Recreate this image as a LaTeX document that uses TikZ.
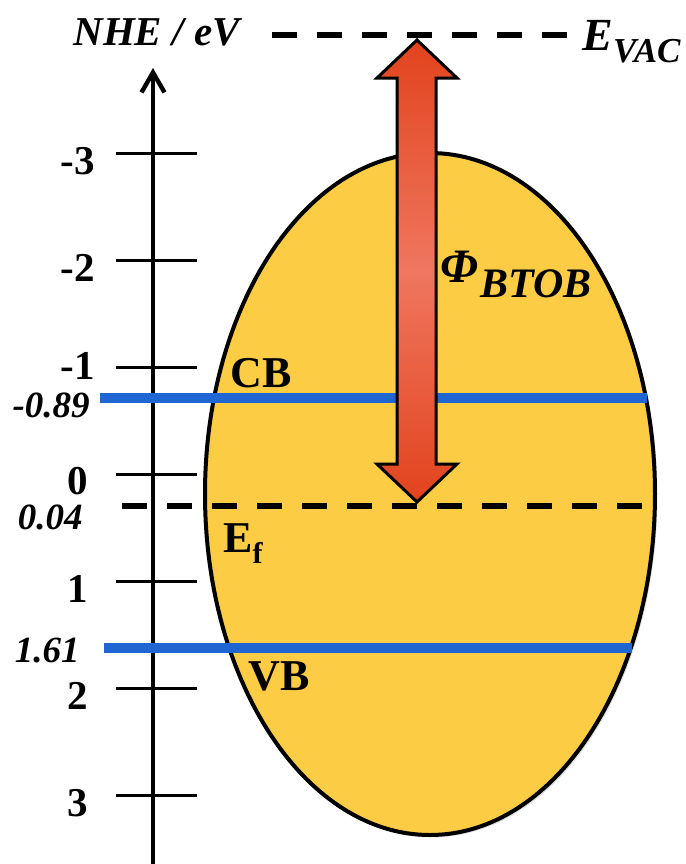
\documentclass[tikz,border=0pt]{standalone}
\usepackage{fontspec}
\setmainfont{Liberation Serif}
\usetikzlibrary{arrows.meta,shadows}
\definecolor{bandblue}{HTML}{1F66D2}
\definecolor{bulk}{HTML}{FCCD44}
\definecolor{arrdark}{HTML}{E2431D}
\definecolor{arrlight}{HTML}{EF765F}

\begin{document}
\begin{tikzpicture}[x=0.5pt,y=-0.5pt,
  every node/.append style={inner sep=0pt, text=black},
  axis/.style={line width=2.2pt, -{Straight Barb[length=10pt,width=11.5pt,line width=2.2pt]}},
  tick/.style={line width=1.5pt},
  level/.style={draw=bandblue, line width=5pt},
  fermi/.style={line width=3pt, dash pattern=on 12.5pt off 10pt},
  num/.style={font=\fontsize{20.5}{24}\selectfont\bfseries, anchor=base},
  val/.style={font=\fontsize{18.5}{22}\selectfont\bfseries\itshape, anchor=base east},
  lbl/.style={font=\fontsize{22}{26}\selectfont\bfseries, anchor=base west},
]
\useasboundingbox (0,0) rectangle (686,864);
% semiconductor body
\filldraw[fill=bulk, draw=black, line width=2pt,
  drop shadow={opacity=0.25, shadow xshift=1.2pt, shadow yshift=-1.2pt}]
  (430,494) ellipse [x radius=225, y radius=341];
% NHE scale
\coordinate (axbot) at (153,864);
\coordinate (axtop) at (153,68);
\draw[axis] (axbot) -- (axtop);
\foreach \v/\y/\ly in {-3/153/174,-2/260/281,-1/367/379,0/474/494,1/581/602,2/688/709,3/795/816} {
  \draw[tick] (116,\y) -- (197,\y);
  \node[num] (n\v) at (78,\ly) {\v};
}
% band edges and Fermi level
\coordinate (cbL) at (100,398);  \coordinate (cbR) at (647,398);
\coordinate (vbL) at (104,648);  \coordinate (vbR) at (632,648);
\coordinate (efL) at (122,506);  \coordinate (efR) at (645,506);
\coordinate (vacL) at (272,35);  \coordinate (vacR) at (568,35);
\draw[level] (cbL) -- (cbR);
\draw[level] (vbL) -- (vbR);
\draw[fermi] (efL) -- (efR);
\draw[fermi] (vacL) -- (vacR);
\node[val] (vcb) at (90,417) {-0.89};
\node[val] (vef) at (83,529) {0.04};
\node[val] (vvb) at (80,662) {1.61};
\node[lbl] (cb) at (230,387) {CB};
\node[lbl] (ef) at (223,552) {E\raisebox{-5.5pt}{\fontsize{15}{18}\selectfont f}};
\node[lbl] (vb) at (248,690) {VB};
% work function arrow
\shade[draw=black, line width=1.5pt, top color=arrdark, bottom color=arrdark, middle color=arrlight]
  (417,40) -- (457,78) -- (436,78) -- (436,464) -- (457,464) -- (417,502)
  -- (377,464) -- (397,464) -- (397,78) -- (377,78) -- cycle;
\node[anchor=base west, font=\bfseries\itshape] (phi) at (440,282)
  {{\fontsize{24}{28}\selectfont Φ}\kern1pt\raisebox{-7.5pt}{\fontsize{21}{24}\selectfont BTOB}};
% top labels
\node[anchor=base west, font=\fontsize{20.5}{24}\selectfont\bfseries\itshape] (nhe) at (73,45) {NHE / eV};
\node[anchor=base west, font=\bfseries\itshape] (evac) at (582,50)
  {{\fontsize{23}{26}\selectfont E}\raisebox{-6pt}{\fontsize{17.5}{20}\selectfont VAC}};
\end{tikzpicture}
\end{document}
